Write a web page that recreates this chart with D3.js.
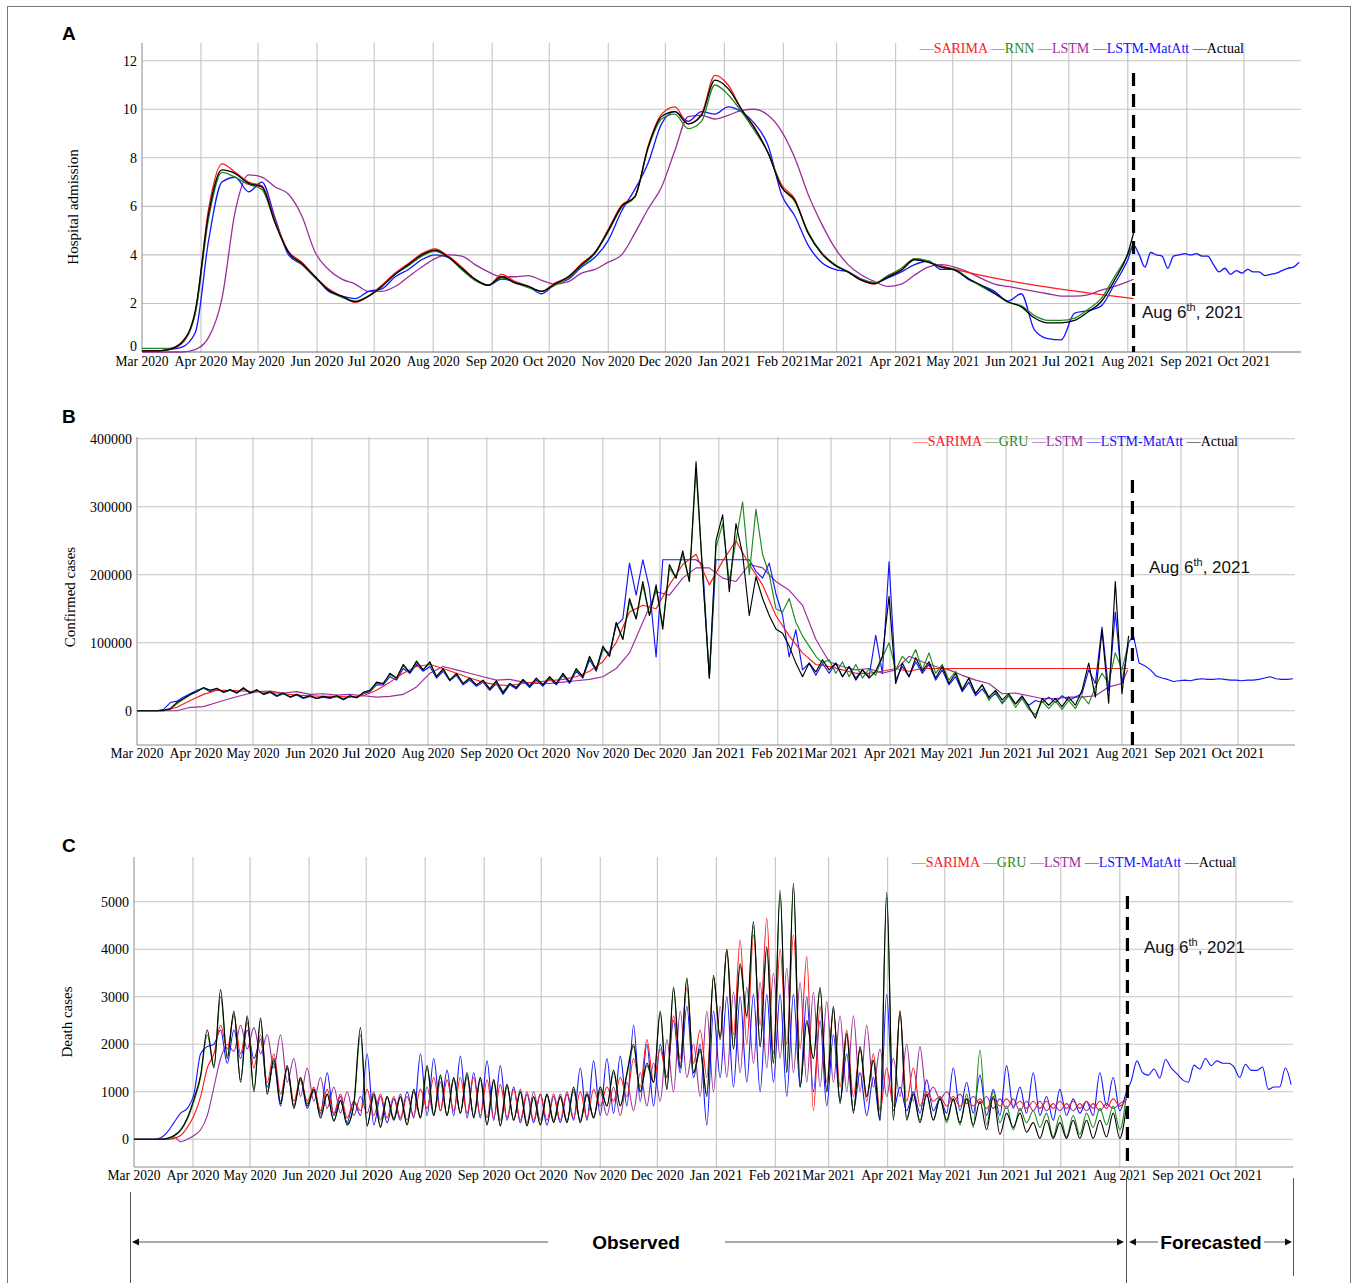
<!DOCTYPE html>
<html><head><meta charset="utf-8">
<script src="https://cdn.jsdelivr.net/npm/d3@7"></script>
<style>body{margin:0;background:#fff}svg{display:block}</style>
</head><body>
<svg id="fig" width="1358" height="1283"></svg>
<script>
// ---------------- DATA ----------------
const monthLabels = ["Mar 2020","Apr 2020","May 2020","Jun 2020","Jul 2020","Aug 2020","Sep 2020","Oct 2020","Nov 2020","Dec 2020","Jan 2021","Feb 2021","Mar 2021","Apr 2021","May 2021","Jun 2021","Jul 2021","Aug 2021","Sep 2021","Oct 2021"];
const namesA = ["SARIMA","RNN","LSTM","LSTM-MatAtt","Actual"];
const namesBC = ["SARIMA","GRU","LSTM","LSTM-MatAtt","Actual"];
const hospTicks = [0,2,4,6,8,10,12];
const caseTicks = [0,100000,200000,300000,400000];
const deathTicks = [0,1000,2000,3000,4000,5000];

// Panel A: weekly values from 1 Mar 2020 (days 0,7,...,518) plus 4 Aug 2021
const hospActual = [0.05,0.05,0.1,0.4,1.7,5.7,7.5,7.35,6.95,6.8,5.3,4.1,3.65,3.1,2.55,2.3,2.07,2.3,2.7,3.2,3.6,4.0,4.2,3.9,3.45,3.0,2.75,3.1,2.85,2.7,2.5,2.8,3.1,3.6,4.1,5.0,6.0,6.4,8.45,9.7,9.9,9.4,9.75,11.2,10.85,10.0,9.2,8.2,6.8,6.25,4.9,4.06,3.58,3.3,2.96,2.82,3.1,3.37,3.8,3.7,3.5,3.37,3.03,2.75,2.42,2.07,1.86,1.4,1.2,1.2,1.3,1.65,2.07,2.96,4.06,4.9];
const hospSarima = [0.05,0.05,0.1,0.35,1.6,5.9,7.75,7.4,7.0,6.85,5.4,4.15,3.7,3.1,2.6,2.3,2.05,2.3,2.75,3.25,3.65,4.05,4.25,3.95,3.5,3.0,2.75,3.2,2.9,2.7,2.5,2.85,3.1,3.65,4.1,5.05,6.05,6.4,8.5,9.8,10.1,9.4,9.8,11.4,11.0,10.0,9.25,8.2,6.9,6.3,4.9,4.1,3.6,3.3,2.95,2.8,3.15,3.4,3.85,3.7,3.55,null,null,null,null,null,null,null,null,null,null,null,null,null,null,2.2];
const hospRnn = [0.15,0.15,0.15,0.4,1.6,5.5,7.4,7.2,6.9,6.7,5.3,4.1,3.6,3.05,2.55,2.25,2.1,2.3,2.7,3.2,3.55,3.95,4.15,3.9,3.4,2.95,2.75,3.05,2.85,2.65,2.5,2.75,3.05,3.55,4.05,4.95,5.95,6.4,8.4,9.6,9.8,9.2,9.5,11.0,10.6,9.9,9.1,8.2,6.8,6.2,4.95,4.1,3.6,3.3,3.0,2.85,3.15,3.45,3.85,3.75,3.5,3.4,3.05,2.7,2.4,2.05,1.9,1.5,1.3,1.3,1.4,1.75,2.2,3.1,4.0,4.5];
const hospLstm = [0,0,0,0,0.1,0.6,2.2,5.8,7.3,7.2,6.8,6.5,5.6,4.1,3.4,3.0,2.8,2.5,2.5,2.7,3.1,3.5,3.85,4.0,3.95,3.6,3.3,3.1,3.1,3.15,2.95,2.8,2.9,3.25,3.4,3.7,4.0,4.9,5.9,6.8,8.3,9.7,9.75,9.6,9.75,9.95,10.0,9.75,9.1,8.0,6.5,5.3,4.3,3.6,3.17,2.9,2.7,2.8,3.17,3.5,3.6,3.5,3.3,3.03,2.8,2.7,2.6,2.5,2.4,2.3,2.3,2.35,2.55,2.7,2.9,3.0];
const hospMatAtt = [0.05,0.05,0.1,0.2,0.8,4.6,7.0,7.2,6.6,7.0,5.5,4.0,3.6,3.1,2.5,2.3,2.2,2.5,2.6,3.1,3.4,3.8,4.0,3.9,3.4,3.0,2.75,3.0,2.9,2.7,2.4,2.8,3.0,3.5,3.9,4.6,5.8,6.7,7.8,9.4,9.9,9.5,9.9,9.8,10.1,9.9,9.4,8.5,6.5,5.6,4.4,3.7,3.4,3.3,3.0,2.85,3.05,3.3,3.6,3.75,3.4,3.4,3.0,2.75,2.5,2.1,2.4,0.9,0.55,0.5,1.6,1.7,1.9,2.8,3.8,4.4];
// forecasts: every 3 days from 7 Aug 2021
const hospForecast = [4.0,3.5,4.1,4.0,3.95,3.45,3.95,4.0,4.05,4.0,4.05,3.95,3.95,3.6,3.3,3.45,3.2,3.35,3.25,3.4,3.3,3.3,3.15,3.2,3.25,3.35,3.45,3.5,3.7];

// Panel B (thousands). Weekly grid for SARIMA and LSTM, half-week grid (3.5 d) for others
const caseSarima = [0,0,0,5,15,24,30,30,29,28,27,25,23,22,21,21,20,22,30,42,55,65,68,62,55,48,42,38,37,40,42,44,46,50,58,72,100,145,155,150,185,215,230,185,220,250,215,185,140,110,85,68,65,60,55,55,58,62,58,62,62,null,null,null,null,null,null,null,null,null,null,null,null,null,null,62];
const caseLstm = [0,0,0,0,5,6,12,18,23,28,29,26,28,24,25,23,24,22,20,21,24,35,55,65,60,55,50,45,46,42,40,40,42,44,46,50,62,85,130,175,170,195,210,210,195,190,215,210,190,177,155,105,72,65,60,62,55,60,80,72,65,60,52,45,40,25,26,22,18,18,20,20,22,35,40,60];
const caseActual = [0,0,0,0,0.5,3,12,18,24,28,
 34,30,33,27,31,26,34,26,31,24,
 28,22,26,20,24,19,22,18,21,19,
 22,17,22,19,27,30,42,40,55,48,
 68,56,73,60,72,50,62,45,55,40,
 48,38,45,32,44,26,40,34,46,36,
 48,38,50,40,55,42,62,50,80,60,
 95,80,130,105,165,135,190,140,185,120,
 215,195,235,190,366,200,48,250,288,175,
 275,230,140,197,165,140,120,114,95,70,
 50,70,57,75,60,70,50,65,45,60,
 48,58,80,168,40,70,50,78,58,72,
 48,65,40,55,30,48,25,38,20,30,
 16,25,10,22,6,-11,18,8,18,6,
 20,8,30,70,20,119,11,190,25,110];
const caseGru = [0,0,0,0,0,2,10,17,23,29,
 33,30,32,28,30,27,33,27,30,25,
 28,22,25,20,24,19,22,18,21,19,
 21,17,22,19,26,30,40,40,53,48,
 66,56,71,60,70,50,60,45,54,40,
 47,38,44,32,43,28,40,34,45,36,
 47,38,49,40,54,42,60,50,78,60,
 92,80,128,105,160,135,185,140,180,125,
 210,195,230,190,355,200,50,240,275,190,
 250,307,200,296,230,200,150,145,165,130,
 110,95,80,70,75,55,72,50,68,48,
 62,52,78,100,60,80,70,90,60,85,
 55,68,45,58,32,48,25,38,15,28,
 10,22,5,18,2,-6,14,3,14,2,
 15,3,22,10,35,55,40,85,60,100];
const caseMatAtt = [0,0,0,0,2,12,14,20,25,30,
 33,28,32,27,30,26,32,26,30,24,
 27,21,25,20,23,18,21,18,20,18,
 21,16,21,19,25,28,38,38,50,45,
 62,55,68,58,65,48,58,44,52,38,
 45,36,42,30,40,24,38,32,44,34,
 45,36,47,38,52,40,58,48,75,58,
 90,85,125,135,217,170,222,180,79,222,
 222,222,222,222,222,215,48,222,222,222,
 222,222,222,205,195,217,172,140,79,119,
 60,70,52,70,55,70,50,65,48,60,
 50,111,55,219,45,65,50,72,55,68,
 45,60,38,50,28,42,22,32,18,25,
 12,22,10,20,8,15,12,20,12,22,
 15,20,25,60,40,123,30,145,40,100];
const caseForecast = [111,70,66,60,51,48,46,43,44,45,44,46,47,46,46,47,46,45,45,44,45,45,46,48,50,47,46,46,47];

// Panel C: half-week grid (3.5 d)
const deathActual = [0,0,0,0,0,20,80,200,450,850,
 1350,2300,1500,3150,1700,2700,1200,2600,1000,2550,
 950,1700,750,1550,650,1300,700,1050,450,950,
 380,820,300,750,2350,280,950,250,900,400,
 900,300,1050,450,1550,500,1350,500,1300,550,
 1400,450,1300,300,1250,280,1150,400,1000,280,
 900,300,950,350,900,350,1100,350,950,450,
 1100,700,1450,700,1400,2000,1000,1600,1200,2700,
 1050,3200,1500,3400,1400,1900,900,3450,2150,4000,
 1900,3700,2600,4580,1950,4050,1600,5240,1400,5380,
 1100,2500,1700,3200,1000,2800,750,2230,550,1950,
 900,1670,400,5200,400,2700,400,950,350,950,
 400,850,400,850,350,850,300,800,200,900,
 100,550,250,550,150,350,20,400,20,350,
 20,400,20,400,20,400,50,550,20,700];
const deathSarima = [0,0,0,0,0,0,20,80,250,500,
 900,1500,1800,2400,1900,2600,1800,2450,1500,2200,
 1200,1800,950,1500,800,1300,800,1100,600,1050,
 550,950,450,800,600,1050,500,950,450,900,
 450,900,500,1050,650,1300,600,1250,600,1300,
 550,1300,500,1250,450,1150,450,1050,400,1000,
 400,950,400,950,400,1000,450,1000,450,1050,
 700,1100,800,1300,900,1700,1100,2100,1200,1900,
 1300,2600,1700,3200,1600,2300,1300,3400,2100,4000,
 2200,4200,2000,4300,2400,4650,1800,4000,2000,4300,
 1900,3850,600,2800,1200,2700,1100,2300,900,1900,
 800,1800,600,1500,700,2700,800,1500,700,1000,
 800,900,700,900,700,850,700,850,650,850,
 700,850,700,800,650,800,650,800,650,800,
 650,800,650,800,650,800,650,850,700,850];
const deathGru = [0,0,0,0,0,10,60,180,420,800,
 1300,2200,1550,3000,1750,2650,1250,2550,1050,2500,
 1000,1650,800,1500,700,1250,750,1000,500,950,
 400,800,330,720,2200,300,900,280,880,420,
 880,320,1000,480,1500,520,1300,520,1280,560,
 1350,470,1250,320,1200,300,1100,420,980,300,
 880,320,920,370,880,370,1050,380,930,470,
 1050,700,1400,720,1350,1950,1000,1550,1200,2650,
 1050,3150,1500,3350,1400,1850,950,3400,2100,3950,
 1900,3650,2550,4500,1950,4000,1600,5150,1400,5300,
 1100,2450,1700,3150,1000,2750,800,2200,600,1900,
 900,1650,450,5100,450,2650,450,950,400,950,
 400,900,350,850,300,950,250,1880,300,1000,
 350,700,200,650,350,600,250,550,50,500,
 50,500,100,550,250,650,300,700,200,950];
const deathLstm = [0,0,0,0,0,0,50,-50,0,80,
 200,500,1100,1700,2000,1850,2400,1900,2350,1800,
 2200,1500,2200,1200,1700,900,1500,800,1300,650,
 1100,550,1000,500,900,550,1000,400,900,450,
 950,400,1000,450,1100,500,1200,500,1250,550,
 1300,500,1300,450,1250,400,1150,400,1050,350,
 1000,400,950,400,950,400,1000,400,1000,450,
 1000,500,1100,500,1200,600,1400,700,1600,800,
 2100,1000,2700,1300,2000,900,2700,1000,2800,1300,
 3100,1400,3200,1600,3300,1500,3500,1700,3600,1400,
 3300,1200,3100,1100,2900,1200,2600,1000,2600,1000,
 2400,1100,1900,900,1700,900,2000,800,1950,900,
 1100,850,1000,800,950,750,900,750,900,650,
 850,650,850,600,800,600,800,600,750,600,
 750,600,750,600,750,600,750,650,750,850];
const deathMatAtt = [0,0,0,0,30,150,350,550,650,950,
 1800,1950,2000,2300,1600,2300,1700,2300,1700,2100,
 1100,1600,700,1500,700,1250,650,1050,550,1400,
 500,900,350,800,500,1800,300,900,350,850,
 400,1000,450,1800,500,1700,600,1450,500,1750,
 450,1400,450,1650,400,1550,400,1100,350,950,
 350,950,300,900,350,950,400,1500,400,1650,
 500,1700,550,1750,700,2400,800,2000,700,2000,
 1300,2500,1400,2800,1300,2000,300,2700,1300,3000,
 1100,3000,1200,3050,1000,3050,1200,3050,900,3050,
 1100,3000,1000,2500,700,2200,800,1800,600,1400,
 500,1300,400,3050,600,1100,600,1000,550,1250,
 600,850,550,1500,600,1200,550,1350,500,1050,
 500,1550,650,1100,550,1400,500,900,400,1050,
 500,850,550,800,500,1400,700,1300,600,1000];
const deathForecast = [1230,1650,1400,1350,1480,1290,1680,1500,1380,1250,1200,1560,1480,1700,1550,1650,1600,1600,1520,1300,1580,1450,1450,1520,1050,1100,1100,1500,1150];

// ---------------- DRAWING ----------------
const colors = {"SARIMA":"#ff1a1a","RNN":"#1f8a1f","GRU":"#1f8a1f","LSTM":"#9a2f9a","LSTM-MatAtt":"#1414ff","Actual":"#000000"};
const DAY = 864e5;
const t0 = Date.UTC(2020,2,1);
const dayDate = d => new Date(t0 + d*DAY);
const parseMonth = d3.utcParse("%b %Y");
const monthDates = monthLabels.map(parseMonth);
const domainX = [dayDate(0), new Date(Date.UTC(2021,9,31))];

const weeklyDays = d3.range(0, 519, 7).concat([521]);
const halfWeekDays = d3.range(0, 150).map(i => i*3.5);
const forecastDays = d3.range(0, 29).map(i => 524 + i*3);

function pts(days, values, scale){
  const out = [];
  values.forEach((v,i)=>{ if(v!==null && v!==undefined) out.push({d:dayDate(days[i]), v:v*scale}); });
  return out;
}

const svg = d3.select("#fig");
svg.append("rect").attr("x",7.5).attr("y",6.5).attr("width",1343).attr("height",1300)
   .attr("fill","none").attr("stroke","#777").attr("stroke-width",1);

const serif = "'Liberation Serif','Times New Roman',serif";
const sans = "'Liberation Sans',Arial,sans-serif";

const panels = [
 {letter:"A", letterY:40, x0:142, x1:1301, top:43, bottom:352, yDomain:[0,12.73], ticks:hospTicks, zeroLift:6,
  title:"Hospital admission", titleX:78, titleY:207, names:namesA, legendX:1244, legendY:53,
  cutDay:521, cutTop:73, labelX:1142, labelY:318, tickLabelY:366, curve:d3.curveMonotoneX, lw:1.3,
  series:[
    {n:"LSTM", days:weeklyDays, v:hospLstm},
    {n:"LSTM-MatAtt", days:weeklyDays.concat(forecastDays), v:hospMatAtt.concat(hospForecast)},
    {n:"SARIMA", days:weeklyDays, v:hospSarima},
    {n:"RNN", days:weeklyDays, v:hospRnn},
    {n:"Actual", days:weeklyDays, v:hospActual}], scale:1},
 {letter:"B", letterY:423, x0:137, x1:1295, top:437, bottom:745, yDomain:[-50440,402500], ticks:caseTicks, zeroLift:0,
  title:"Confirmed cases", titleX:75, titleY:597, names:namesBC, legendX:1238, legendY:446,
  cutDay:523.5, cutTop:480, labelX:1149, labelY:573, tickLabelY:758, curve:d3.curveLinear, lw:1.15,
  series:[
    {n:"LSTM", days:weeklyDays, v:caseLstm},
    {n:"LSTM-MatAtt", days:halfWeekDays.concat(forecastDays), v:caseMatAtt.concat(caseForecast)},
    {n:"SARIMA", days:weeklyDays, v:caseSarima},
    {n:"GRU", days:halfWeekDays, v:caseGru},
    {n:"Actual", days:halfWeekDays, v:caseActual}], scale:1000},
 {letter:"C", letterY:852, x0:134, x1:1293, top:857, bottom:1167, yDomain:[-583,5941], ticks:deathTicks, zeroLift:0,
  title:"Death cases", titleX:72, titleY:1022, names:namesBC, legendX:1236, legendY:867,
  cutDay:522, cutTop:896, labelX:1144, labelY:953, tickLabelY:1180, curve:d3.curveMonotoneX, lw:1.1,
  series:[
    {n:"LSTM", days:halfWeekDays, v:deathLstm},
    {n:"LSTM-MatAtt", days:halfWeekDays.concat(forecastDays), v:deathMatAtt.concat(deathForecast)},
    {n:"SARIMA", days:halfWeekDays, v:deathSarima},
    {n:"GRU", days:halfWeekDays, v:deathGru},
    {n:"Actual", days:halfWeekDays, v:deathActual}], scale:1}
];

panels.forEach(p => {
  const g = svg.append("g");
  const x = d3.scaleUtc().domain(domainX).range([p.x0, p.x1]);
  const y = d3.scaleLinear().domain(p.yDomain).range([p.bottom, p.top]);

  g.append("text").attr("x",62).attr("y",p.letterY).text(p.letter)
    .style("font-family",sans).style("font-weight","bold").style("font-size","19px");

  // grid
  g.append("g").selectAll("line").data(p.ticks).join("line")
    .attr("x1",p.x0).attr("x2",p.x1).attr("y1",d=>y(d)).attr("y2",d=>y(d))
    .attr("stroke","#c4c4c4").attr("stroke-width",1.1);
  g.append("g").selectAll("line").data(monthDates.slice(1)).join("line")
    .attr("x1",d=>x(d)).attr("x2",d=>x(d)).attr("y1",p.top).attr("y2",p.bottom)
    .attr("stroke","#c4c4c4").attr("stroke-width",1.1);

  // axis lines
  g.append("line").attr("x1",p.x0).attr("x2",p.x0).attr("y1",p.top).attr("y2",p.bottom).attr("stroke","#8a8a8a");
  g.append("line").attr("x1",p.x0).attr("x2",p.x1).attr("y1",p.bottom).attr("y2",p.bottom).attr("stroke","#8a8a8a");

  // y tick labels
  g.append("g").selectAll("text").data(p.ticks).join("text")
    .attr("x",p.x0-5).attr("y",d=>y(d) - (d===0 ? p.zeroLift : 0)).attr("dy","0.35em").attr("text-anchor","end")
    .style("font-family",serif).style("font-size","14px").text(d=>d3.format("d")(d));
  // x tick labels
  g.append("g").selectAll("text").data(monthDates).join("text")
    .attr("x",d=>x(d)).attr("y",p.tickLabelY).attr("text-anchor","middle")
    .style("font-family",serif).style("font-size","14px").attr("textLength",53).attr("lengthAdjust","spacingAndGlyphs")
    .text((d,i)=>monthLabels[i]);

  // y title
  g.append("text").attr("transform",`translate(${p.titleX},${p.titleY}) rotate(-90)`)
    .attr("text-anchor","middle").style("font-family",serif).style("font-size","15px").text(p.title);

  // series
  const line = d3.line().x(d=>x(d.d)).y(d=>y(d.v)).curve(p.curve);
  p.series.forEach(s => {
    g.append("path").attr("d", line(pts(s.days, s.v, p.scale)))
      .attr("fill","none").attr("stroke",colors[s.n]).attr("stroke-width",p.lw).attr("stroke-linejoin","round");
  });

  // legend
  const lt = g.append("text").attr("x",p.legendX).attr("y",p.legendY).attr("text-anchor","end")
    .style("font-family",serif).style("font-size","14px");
  p.names.forEach((n,i)=>{ lt.append("tspan").attr("fill",colors[n]).text((i?" ":"")+"\u2014"+n); });

  // cut line and date label
  const cx = x(dayDate(p.cutDay));
  g.append("line").attr("x1",cx).attr("x2",cx).attr("y1",p.cutTop).attr("y2",p.bottom)
    .attr("stroke","#000").attr("stroke-width",3.2).attr("stroke-dasharray","13,8");
  const at = g.append("text").attr("x",p.labelX).attr("y",p.labelY)
    .style("font-family",sans).style("font-size","17px").attr("fill","#111");
  at.append("tspan").text("Aug 6");
  at.append("tspan").attr("dy",-7).style("font-size","11px").text("th");
  at.append("tspan").attr("dy",7).text(", 2021");
});

// bottom annotation
const ann = svg.append("g").attr("stroke","#555").attr("stroke-width",1);
ann.append("line").attr("x1",130.5).attr("x2",130.5).attr("y1",1192).attr("y2",1283);
ann.append("line").attr("x1",1126.5).attr("x2",1126.5).attr("y1",1176).attr("y2",1283);
ann.append("line").attr("x1",1293.5).attr("x2",1293.5).attr("y1",1178).attr("y2",1276);
const ay = 1242;
const segs = [[133,548],[725,1122],[1131,1158],[1264,1290]];
segs.forEach(s=> ann.append("line").attr("x1",s[0]).attr("x2",s[1]).attr("y1",ay).attr("y2",ay));
function arrow(xTip, dir){
  svg.append("path").attr("d",`M${xTip},${ay} L${xTip-dir*7},${ay-3.5} L${xTip-dir*7},${ay+3.5} Z`).attr("fill","#111");
}
arrow(132,-1); arrow(1124,1); arrow(1129,-1); arrow(1292,1);
svg.append("text").attr("x",636).attr("y",ay+7).attr("text-anchor","middle")
  .style("font-family",sans).style("font-weight","bold").style("font-size","19px").text("Observed");
svg.append("text").attr("x",1211).attr("y",ay+7).attr("text-anchor","middle")
  .style("font-family",sans).style("font-weight","bold").style("font-size","19px").text("Forecasted");
</script>
</body></html>
